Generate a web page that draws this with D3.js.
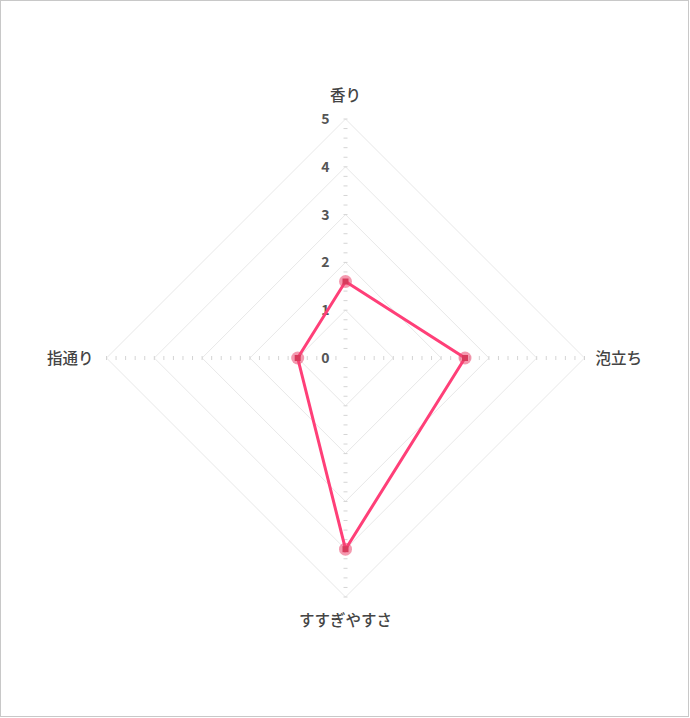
<!DOCTYPE html>
<html>
<head>
<meta charset="utf-8">
<script src="https://cdn.jsdelivr.net/npm/d3@7"></script>
<style>
  body { margin: 0; background: #fff; }
  svg { display: block; font-family: "Noto Sans CJK JP", "Noto Sans", sans-serif; }
</style>
</head>
<body>
<div id="radar"></div>
<script>
// chart data
var axes = ["香り", "泡立ち", "すすぎやすさ", "指通り"];
var values = [1.6, 2.5, 4, 1];
var levels = [0, 1, 2, 3, 4, 5];

var width = 690, height = 718;
var cx = 345.5, cy = 358, radius = 239;

var svg = d3.select("#radar")
  .append("svg")
    .attr("width", width)
    .attr("height", height);

// outer frame
svg.append("rect")
  .attr("x", 0.5).attr("y", 0.5)
  .attr("width", width - 2).attr("height", height - 2)
  .attr("fill", "none")
  .attr("stroke", "#c8c8c8");

var g = svg.append("g")
  .attr("transform", "translate(" + cx + "," + cy + ")");

var r = d3.scaleLinear().domain([0, 5]).range([0, radius]);
var angle = d3.scalePoint().domain(axes).range([0, 2 * Math.PI * 3 / 4]);

function pt(axis, v) {
  var a = angle(axis) - Math.PI / 2;
  return [Math.cos(a) * r(v), Math.sin(a) * r(v)];
}

// grid diamonds
g.append("g")
  .selectAll("path")
  .data(levels.slice(1))
  .enter()
  .append("path")
    .attr("d", function (lv) {
      return "M" + axes.map(function (a) { return pt(a, lv); }).join("L") + "Z";
    })
    .attr("fill", "none")
    .attr("stroke", "#e8e8e8")
    .attr("stroke-width", 1);

// axis tick marks (every 0.2)
var minor = d3.range(1, 26).map(function (i) { return i / 5; });
axes.forEach(function (axis) {
  var a = angle(axis) - Math.PI / 2;
  var px = -Math.sin(a), py = Math.cos(a);
  g.append("g")
    .selectAll("line")
    .data(minor)
    .enter()
    .append("line")
      .attr("x1", function (v) { return pt(axis, v)[0] - px * 2; })
      .attr("y1", function (v) { return pt(axis, v)[1] - py * 2; })
      .attr("x2", function (v) { return pt(axis, v)[0] + px * 2; })
      .attr("y2", function (v) { return pt(axis, v)[1] + py * 2; })
      .attr("stroke", "#d4d4d4")
      .attr("stroke-width", 1);
});

// scale labels
g.append("g")
  .selectAll("text")
  .data(levels)
  .enter()
  .append("text")
    .attr("x", -16)
    .attr("y", function (lv) { return -r(lv); })
    .attr("dy", "0.36em")
    .attr("text-anchor", "end")
    .attr("font-size", 14)
    .attr("font-weight", "bold")
    .attr("fill", "#555")
    .text(function (lv) { return lv; });

// axis labels
var labelPos = {
  "香り": [0, -263, "middle"],
  "泡立ち": [250, 0, "start"],
  "すすぎやすさ": [0, 262, "middle"],
  "指通り": [-252, 0, "end"]
};
g.append("g")
  .selectAll("text")
  .data(axes)
  .enter()
  .append("text")
    .attr("x", function (d) { return labelPos[d][0]; })
    .attr("y", function (d) { return labelPos[d][1]; })
    .attr("dy", "0.36em")
    .attr("text-anchor", function (d) { return labelPos[d][2]; })
    .attr("font-size", 15.5)
    .attr("font-weight", 500)
    .attr("fill", "#444")
    .text(function (d) { return d; });

// data polygon
var pts = axes.map(function (a, i) { return pt(a, values[i]); });
g.append("path")
  .attr("d", "M" + pts.join("L") + "Z")
  .attr("fill", "none")
  .attr("stroke", "#ff3f78")
  .attr("stroke-width", 3)
  .attr("stroke-linejoin", "miter");

// points
var dots = g.append("g")
  .selectAll("g")
  .data(pts)
  .enter()
  .append("g")
    .attr("transform", function (d) { return "translate(" + d[0] + "," + d[1] + ")"; });
dots.append("circle")
  .attr("r", 6.5)
  .attr("fill", "rgba(235,70,110,0.55)");
dots.append("rect")
  .attr("x", -3).attr("y", -3)
  .attr("width", 6).attr("height", 6)
  .attr("fill", "#d83a5c");
</script>
</body>
</html>
